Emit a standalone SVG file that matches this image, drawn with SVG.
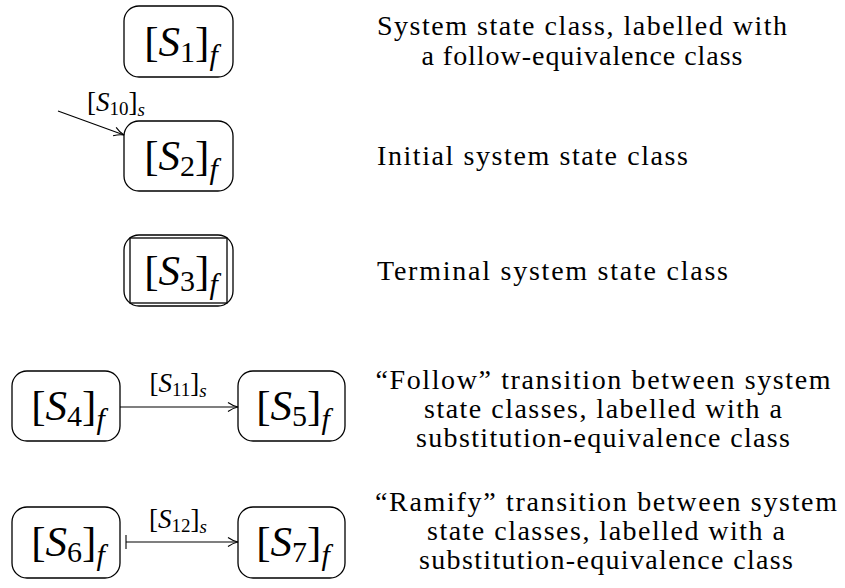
<svg xmlns="http://www.w3.org/2000/svg" width="845" height="588" viewBox="0 0 845 588">
  <style>
    text { font-family: 'Liberation Serif', 'Times New Roman', serif; fill: #000; }
    .box { fill: #fff; stroke: #000; stroke-width: 1.3; }
    .edge { fill: none; stroke: #000; stroke-width: 1.1; }
    .math { font-size: 43px; text-anchor: middle; }
    .lbl { font-size: 27px; text-anchor: middle; }
    .it { font-style: italic; }
    .desc { font-size: 28px; }
    .mid { text-anchor: middle; }
  </style>
  <defs>
    <marker id="to" viewBox="0 0 12 12" refX="11" refY="6" markerWidth="12" markerHeight="12" markerUnits="userSpaceOnUse" orient="auto">
      <path d="M1 1.5 Q6 5 11 6 Q6 7 1 10.5" fill="none" stroke="#000" stroke-width="1.1"/>
    </marker>
  </defs>

  <!-- state nodes -->
  <g id="s1">
    <rect class="box" x="124" y="6" width="109" height="71" rx="15"/>
    <text class="math" x="181" y="56">[<tspan class="it">S</tspan><tspan font-size="30" dy="6">1</tspan><tspan dy="-6">]</tspan><tspan class="it" font-size="30" dy="9">f</tspan></text>
  </g>
  <g id="s2">
    <rect class="box" x="124" y="121" width="109" height="70" rx="15"/>
    <text class="math" x="181" y="170">[<tspan class="it">S</tspan><tspan font-size="30" dy="6">2</tspan><tspan dy="-6">]</tspan><tspan class="it" font-size="30" dy="9">f</tspan></text>
  </g>
  <g id="s3">
    <rect class="box" x="124" y="235" width="109" height="71" rx="15"/>
    <rect class="box" x="130" y="238" width="97" height="65"/>
    <text class="math" x="181" y="285">[<tspan class="it">S</tspan><tspan font-size="30" dy="6">3</tspan><tspan dy="-6">]</tspan><tspan class="it" font-size="30" dy="9">f</tspan></text>
  </g>
  <g id="s4">
    <rect class="box" x="12" y="371" width="108" height="70" rx="15"/>
    <text class="math" x="68" y="420">[<tspan class="it">S</tspan><tspan font-size="30" dy="6">4</tspan><tspan dy="-6">]</tspan><tspan class="it" font-size="30" dy="9">f</tspan></text>
  </g>
  <g id="s5">
    <rect class="box" x="238" y="371" width="107" height="70" rx="15"/>
    <text class="math" x="293" y="420">[<tspan class="it">S</tspan><tspan font-size="30" dy="6">5</tspan><tspan dy="-6">]</tspan><tspan class="it" font-size="30" dy="9">f</tspan></text>
  </g>
  <g id="s6">
    <rect class="box" x="12" y="507" width="108" height="71" rx="15"/>
    <text class="math" x="68" y="556">[<tspan class="it">S</tspan><tspan font-size="30" dy="6">6</tspan><tspan dy="-6">]</tspan><tspan class="it" font-size="30" dy="9">f</tspan></text>
  </g>
  <g id="s7">
    <rect class="box" x="238" y="507" width="107" height="71" rx="15"/>
    <text class="math" x="293" y="556">[<tspan class="it">S</tspan><tspan font-size="30" dy="6">7</tspan><tspan dy="-6">]</tspan><tspan class="it" font-size="30" dy="9">f</tspan></text>
  </g>

  <!-- connectors and their labels -->
  <g id="connectors">
    <line class="edge" x1="58" y1="111" x2="124" y2="135" marker-end="url(#to)"/>
    <line class="edge" x1="120" y1="407" x2="238" y2="407" marker-end="url(#to)"/>
    <line class="edge" x1="126" y1="542" x2="238" y2="542" marker-end="url(#to)"/>
    <line class="edge" x1="126" y1="535" x2="126" y2="549"/>
    <text class="lbl" x="116" y="111">[<tspan class="it">S</tspan><tspan font-size="19" dy="4">10</tspan><tspan dy="-4">]</tspan><tspan class="it" font-size="19" dy="5">s</tspan></text>
    <text class="lbl" x="178" y="392">[<tspan class="it">S</tspan><tspan font-size="19" dy="4">11</tspan><tspan dy="-4">]</tspan><tspan class="it" font-size="19" dy="5">s</tspan></text>
    <text class="lbl" x="178" y="528">[<tspan class="it">S</tspan><tspan font-size="19" dy="4">12</tspan><tspan dy="-4">]</tspan><tspan class="it" font-size="19" dy="5">s</tspan></text>
  </g>

  <!-- legend descriptions -->
  <g id="descriptions">
    <text class="desc mid" x="582" y="35" textLength="410">System state class, labelled with</text>
    <text class="desc mid" x="582" y="65" textLength="321">a follow-equivalence class</text>
    <text class="desc" x="377" y="165" textLength="311">Initial system state class</text>
    <text class="desc" x="377" y="280" textLength="351">Terminal system state class</text>
    <text class="desc mid" x="603" y="389" textLength="455">“Follow” transition between system</text>
    <text class="desc mid" x="603" y="418" textLength="358">state classes, labelled with a</text>
    <text class="desc mid" x="603" y="447" textLength="374">substitution-equivalence class</text>
    <text class="desc mid" x="606" y="511" textLength="462">“Ramify” transition between system</text>
    <text class="desc mid" x="606" y="540" textLength="358">state classes, labelled with a</text>
    <text class="desc mid" x="606" y="569" textLength="374">substitution-equivalence class</text>
  </g>
</svg>
